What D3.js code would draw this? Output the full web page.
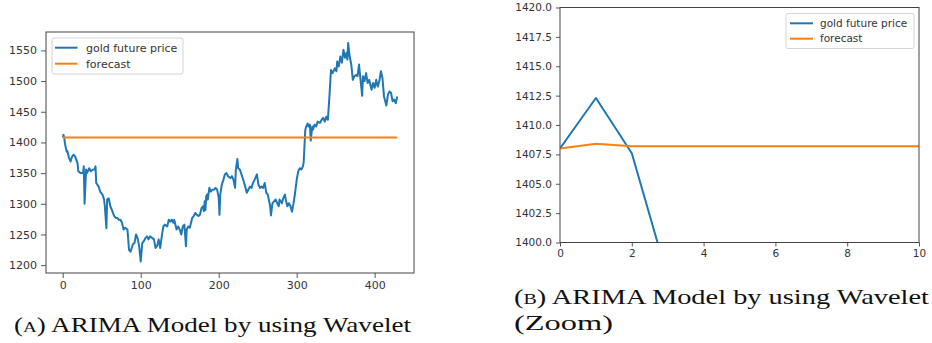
<!DOCTYPE html>
<html><head><meta charset="utf-8">
<script src="https://cdn.jsdelivr.net/npm/d3@7"></script>
<style>body{margin:0;background:#fff}svg{display:block}</style>
</head><body>
<svg id="c" width="932" height="343"></svg>
<script>
// ---------- data ----------
const seriesNames = ["gold future price", "forecast"];
const goldIdx = [0,1,2,3,5,6,8,10,12,14,16,19,20,23,26,27,28,30,31,34,36,39,41,42,43,46,48,51,53,54,56,57,59,61,63,66,68,70,72,74,76,78,80,83,84,85,87,90,92,94,96,98,100,102,104,106,108,110,112,115,117,119,121,123,125,127,129,131,134,136,138,140,142,143,146,148,150,152,154,156,158,159,161,163,166,168,170,172,174,176,178,180,181,182,183,184,185,186,188,190,192,194,196,198,200,201,202,204,206,208,210,212,215,217,219,221,222,224,225,227,230,232,234,236,238,240,242,244,246,249,251,253,255,257,259,261,263,266,267,269,271,273,275,277,278,281,283,285,286,288,290,292,294,296,298,300,302,304,306,308,309,311,312,314,315,317,318,320,321,323,325,327,330,332,334,336,338,340,342,344,346,349,351,352,354,356,358,360,362,364,365,366,368,370,372,374,376,378,380,381,384,385,387,389,391,393,396,398,400,402,404,406,408,410,412,415,417,419,421,423,425,427,429];
const goldPrice = [1408,1412.3,1407.6,1397,1385,1386,1375,1369,1377,1380,1377,1366,1353,1350,1350,1361,1300,1356,1350,1358,1353,1356,1356,1361,1334,1328,1320,1315,1307,1296,1260,1307,1309,1296,1290,1280,1277,1277,1274,1274,1269,1258,1261,1258,1242,1225,1222,1234,1236,1250,1244,1231,1206,1236,1239,1244,1247,1242,1247,1244,1242,1228,1231,1242,1228,1247,1263,1266,1263,1274,1271,1274,1269,1274,1258,1263,1258,1250,1263,1266,1231,1258,1263,1261,1277,1280,1285,1282,1280,1282,1293,1296,1288,1304,1290,1312,1315,1307,1326,1320,1323,1323,1326,1323,1310,1282,1315,1331,1339,1348,1350,1345,1342,1345,1339,1326,1356,1373,1358,1356,1345,1337,1328,1318,1323,1328,1326,1334,1339,1348,1331,1326,1328,1326,1334,1318,1315,1296,1281,1301,1304,1307,1301,1296,1307,1301,1310,1315,1307,1296,1301,1296,1287,1301,1318,1339,1353,1358,1356,1361,1368,1420,1425,1431,1426,1429,1403,1426,1421,1429,1426,1434,1432,1437,1440,1434,1442,1437,1475,1518,1513,1521,1516,1532,1524,1540,1530,1551,1538,1546,1535,1562,1540,1527,1502,1508,1510,1508,1527,1513,1476,1508,1500,1513,1497,1502,1486,1497,1489,1502,1491,1500,1516,1505,1475,1460,1478,1483,1481,1467,1470,1464,1475];
const forecastIdx = [0,1,2,429];
const forecastVal = [1408.0,1408.4,1408.2,1408.2];
const leftXTicks = [0,100,200,300,400];
const leftYTicks = [1200,1250,1300,1350,1400,1450,1500,1550];
const rightXTicks = [0,2,4,6,8,10];
const rightYTicks = [1400,1402.5,1405,1407.5,1410,1412.5,1415,1417.5,1420];
const captionA = ["(", "A", ") ARIMA Model by using Wavelet"];
const captionB1 = ["(", "B", ") ARIMA Model by using Wavelet"];
const captionB2 = "(Zoom)";

const colors = ["#1f77b4", "#ff7f0e"];
const svg = d3.select("#c");
const gold = goldIdx.map((d,i)=>({x:d,y:goldPrice[i]}));
const fc = forecastIdx.map((d,i)=>({x:d,y:forecastVal[i]}));

function panel(o){
  const g = svg.append("g");
  const x = d3.scaleLinear().domain(o.xd).range([o.l,o.r]);
  const y = d3.scaleLinear().domain(o.yd).range([o.b,o.t]);
  const cid = "clip"+o.id;
  g.append("clipPath").attr("id",cid).append("rect")
    .attr("x",o.l).attr("y",o.t).attr("width",o.r-o.l).attr("height",o.b-o.t);
  const line = d3.line().x(d=>x(d.x)).y(d=>y(d.y));
  const lg = g.append("g").attr("clip-path",`url(#${cid})`);
  lg.append("path").datum(gold).attr("d",line).attr("fill","none")
    .attr("stroke",colors[0]).attr("stroke-width",o.lw).attr("stroke-linejoin","round");
  lg.append("path").datum(fc).attr("d",line).attr("fill","none")
    .attr("stroke",colors[1]).attr("stroke-width",o.lw).attr("stroke-linejoin","round");
  const xa = g.append("g").attr("transform",`translate(0,${o.b})`)
    .call(d3.axisBottom(x).tickValues(o.xt).tickSize(o.tick).tickPadding(o.xpad).tickFormat(o.xf));
  const ya = g.append("g").attr("transform",`translate(${o.l},0)`)
    .call(d3.axisLeft(y).tickValues(o.yt).tickSize(o.tick).tickPadding(o.ypad).tickFormat(o.yf));
  [xa,ya].forEach(a=>{
    a.select(".domain").remove();
    a.selectAll("line").attr("stroke","#444").attr("stroke-width",0.9);
    a.selectAll("text").attr("fill","#333").style("font-family","DejaVu Sans").style("font-size",o.fs+"px");
  });
  g.append("rect").attr("x",o.l).attr("y",o.t).attr("width",o.r-o.l).attr("height",o.b-o.t)
    .attr("fill","none").attr("stroke","#444").attr("stroke-width",1);
  // legend
  const L = o.leg;
  g.append("rect").attr("x",L.x).attr("y",L.y).attr("width",L.w).attr("height",L.h)
    .attr("rx",2).attr("fill","#fff").attr("fill-opacity",0.85).attr("stroke","#d4d4d4");
  seriesNames.forEach((n,i)=>{
    const yy = L.y + L.r0 + i*L.dy;
    g.append("line").attr("x1",L.x+L.lx0).attr("x2",L.x+L.lx1).attr("y1",yy).attr("y2",yy)
      .attr("stroke",colors[i]).attr("stroke-width",o.lw);
    g.append("text").attr("x",L.x+L.tx).attr("y",yy).attr("dy","0.35em")
      .attr("fill","#333").style("font-family","DejaVu Sans").style("font-size",L.fs+"px").text(n);
  });
}

panel({id:"A", l:46, r:414, t:32, b:273, xd:[-21.45,450.45], yd:[1187.2,1580],
  xt:leftXTicks, yt:leftYTicks, xf:d3.format("d"), yf:d3.format("d"),
  tick:5, xpad:3, ypad:4, fs:11, lw:2,
  leg:{x:52, y:38, w:131, h:36, r0:9.7, dy:16, lx0:3, lx1:25.5, tx:34, fs:11}});

panel({id:"B", l:560, r:919, t:7.5, b:242.5, xd:[0,10], yd:[1400,1420],
  xt:rightXTicks, yt:rightYTicks, xf:d3.format("d"), yf:d3.format(".1f"),
  tick:4, xpad:3, ypad:4, fs:10.5, lw:2,
  leg:{x:786, y:13.5, w:128, h:35, r0:9.8, dy:15.4, lx0:4, lx1:27, tx:34, fs:10.5}});

// captions
function caption(parts, x, y, len){
  const t = svg.append("text").attr("x",x).attr("y",y)
    .attr("textLength",len).attr("lengthAdjust","spacingAndGlyphs")
    .attr("fill","#111").style("font-family","Liberation Serif").style("font-size","22px");
  t.append("tspan").text(parts[0]);
  t.append("tspan").style("font-size","15.5px").text(parts[1]);
  t.append("tspan").text(parts[2]);
}
caption(captionA, 14, 332, 397);
caption(captionB1, 514, 304, 415);
svg.append("text").attr("x",514).attr("y",330).attr("textLength",99).attr("lengthAdjust","spacingAndGlyphs")
  .attr("fill","#111").style("font-family","Liberation Serif").style("font-size","22px").text(captionB2);
</script>
</body></html>
